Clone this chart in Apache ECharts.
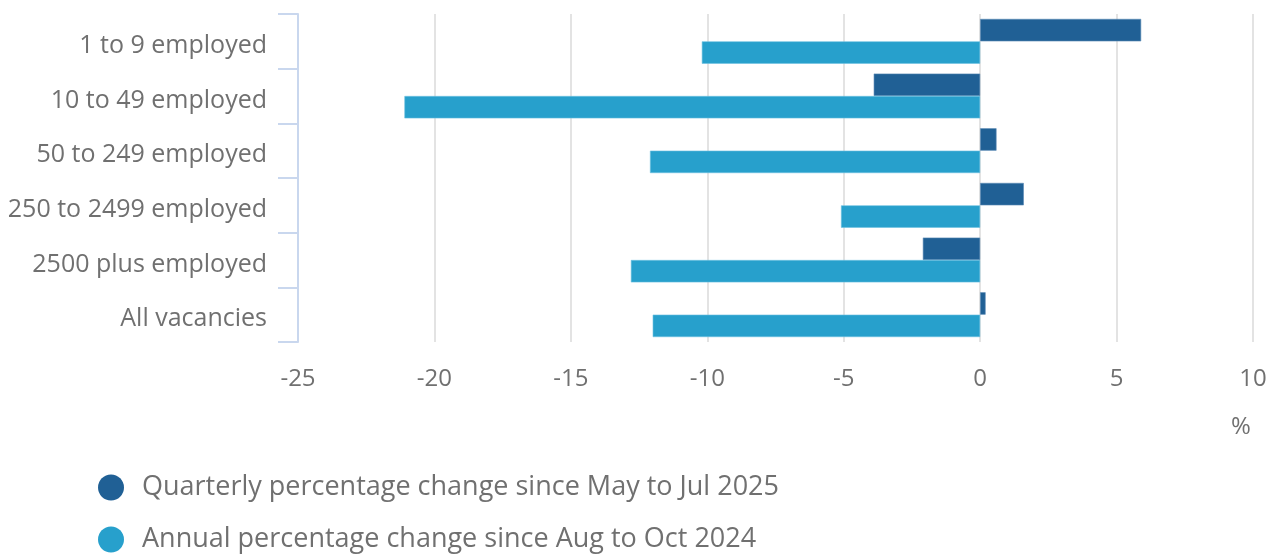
<!DOCTYPE html>
<html>
<head>
<meta charset="utf-8">
<script src="https://cdn.jsdelivr.net/npm/echarts@6/dist/echarts.min.js"></script>
<style>
  html, body { margin: 0; padding: 0; background: #fff; }
  #chart { width: 1277px; height: 558px; }
</style>
</head>
<body>
<div id="chart"></div>
<script>
const categories = [
  "1 to 9 employed",
  "10 to 49 employed",
  "50 to 249 employed",
  "250 to 2499 employed",
  "2500 plus employed",
  "All vacancies"
];
const quarterly = [5.9, -3.9, 0.6, 1.6, -2.1, 0.2];
const annual = [-10.2, -21.1, -12.1, -5.1, -12.8, -12.0];
const seriesNames = [
  "Quarterly percentage change since May to Jul 2025",
  "Annual percentage change since Aug to Oct 2024"
];

const textColor = "#707070";
const fontFamily = "'Open Sans', sans-serif";

const chart = echarts.init(document.getElementById("chart"));

// one legend per row, stacked
const legendRow = (name, top) => ({
  orient: "vertical",
  left: 93,
  top,
  icon: "circle",
  itemWidth: 26,
  itemHeight: 26,
  itemStyle: { borderWidth: 0 },
  textStyle: { color: textColor, fontSize: 27, fontFamily, padding: [0, 0, 0, 13] },
  data: [name]
});

chart.setOption({
  animation: false,
  textStyle: { fontFamily },
  grid: { left: 298, right: 24, top: 14, bottom: 216 },
  xAxis: {
    type: "value",
    min: -25,
    max: 10,
    interval: 5,
    axisLine: { show: false },
    axisTick: { show: false },
    axisLabel: { color: textColor, fontSize: 24, margin: 25, fontFamily },
    splitLine: { lineStyle: { color: "#e3e3e3", width: 2 } }
  },
  yAxis: {
    type: "category",
    data: categories,
    inverse: true,
    axisLine: { show: true, onZero: false, lineStyle: { color: "#c9d7ee", width: 2 } },
    axisTick: { show: true, length: 20, lineStyle: { color: "#c9d7ee", width: 2 } },
    axisLabel: {
      color: textColor, fontSize: 25, margin: 31, fontFamily,
      verticalAlign: "top", lineHeight: 9
    },
    splitLine: { show: false }
  },
  legend: [legendRow(seriesNames[0], 469), legendRow(seriesNames[1], 521)],
  graphic: [{
    type: "text",
    left: 1231,
    top: 415,
    style: { text: "%", fill: textColor, fontSize: 24, fontFamily }
  }],
  series: [
    {
      name: seriesNames[0],
      type: "bar",
      data: quarterly,
      barGap: "0%",
      barCategoryGap: "18%",
      itemStyle: { color: "#206095", borderColor: "#5a8ab5", borderWidth: 0.6 }
    },
    {
      name: seriesNames[1],
      type: "bar",
      data: annual,
      itemStyle: { color: "#27a0cc", borderColor: "#6dc1e0", borderWidth: 0.6 }
    }
  ]
});
</script>
</body>
</html>
